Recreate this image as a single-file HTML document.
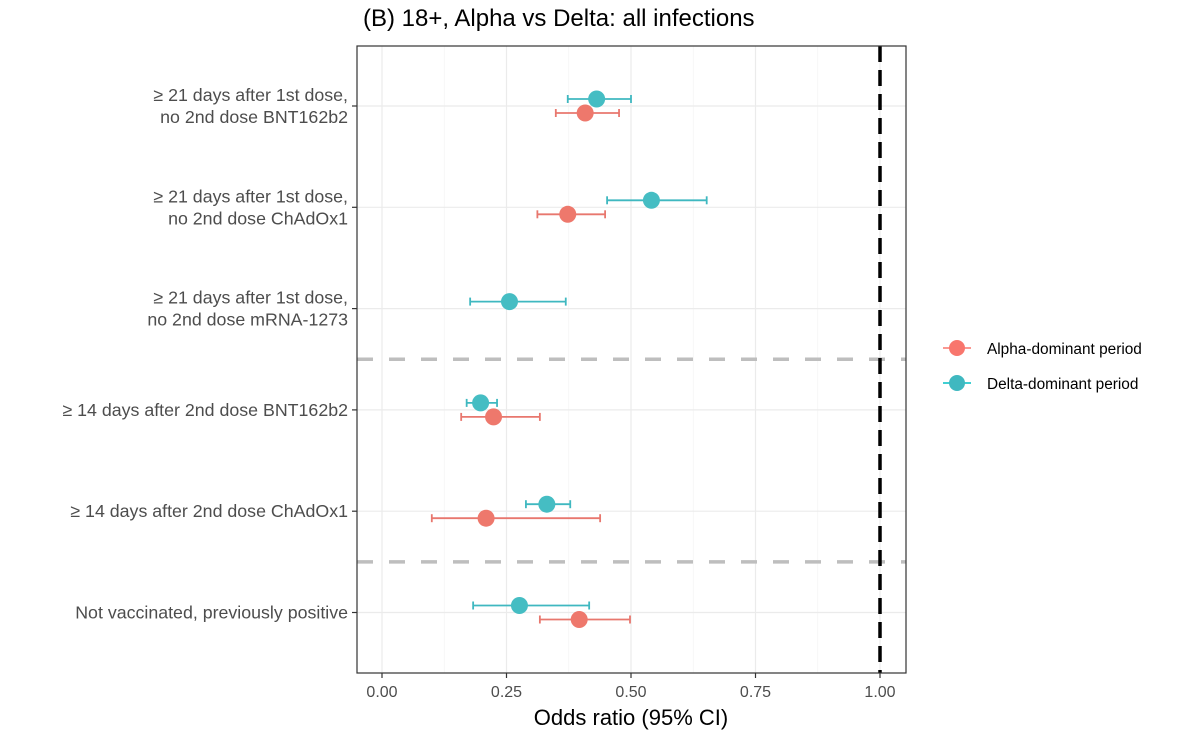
<!DOCTYPE html>
<html><head><meta charset="utf-8"><style>
body{margin:0;background:#fff;}
svg{display:block;font-family:"Liberation Sans",Arial,sans-serif;}
</style></head><body>
<svg id="chart" width="1200" height="741" viewBox="0 0 1200 741">
<text x="363" y="26" font-size="24" fill="#000">(B) 18+, Alpha vs Delta: all infections</text>
<g id="grid"></g>
<g id="marks"></g>
<rect x="357" y="46" width="549" height="627" fill="none" stroke="#333" stroke-width="1.2"/>
<g id="axes"></g>
<text x="631" y="725" font-size="22" text-anchor="middle" fill="#000">Odds ratio (95% CI)</text>
<g>
<g>
<line x1="943" y1="348" x2="971" y2="348" stroke="#F8766D" stroke-width="1.5"/>
<circle cx="957" cy="348" r="8" fill="#F8766D"/>
<text x="987" y="354" font-size="15.4" fill="#000">Alpha-dominant period</text></g>
<g>
<line x1="943" y1="383" x2="971" y2="383" stroke="#00BFC4" stroke-width="1.5"/>
<circle cx="957" cy="383" r="8" fill="#3FB8C0"/>
<text x="987" y="389" font-size="15.4" fill="#000">Delta-dominant period</text></g>
</g>
</svg>
<script>
const categories=["≥ 21 days after 1st dose,|no 2nd dose BNT162b2","≥ 21 days after 1st dose,|no 2nd dose ChAdOx1","≥ 21 days after 1st dose,|no 2nd dose mRNA-1273","≥ 14 days after 2nd dose BNT162b2","≥ 14 days after 2nd dose ChAdOx1","Not vaccinated, previously positive"];
const alphaEst=[0.408,0.373,null,0.224,0.209,0.396];
const alphaLo=[0.349,0.312,null,0.159,0.100,0.317];
const alphaHi=[0.476,0.448,null,0.317,0.438,0.498];
const deltaEst=[0.431,0.541,0.256,0.198,0.331,0.276];
const deltaLo=[0.373,0.452,0.177,0.170,0.289,0.183];
const deltaHi=[0.500,0.652,0.369,0.231,0.378,0.416];
const xTicks=[0,0.25,0.5,0.75,1];
const xTickLabels=["0.00","0.25","0.50","0.75","1.00"];
const NS="http://www.w3.org/2000/svg";
const X=v=>382+v*498;
const Y=i=>106+i*101.3;
function el(t,a,p){const e=document.createElementNS(NS,t);for(const k in a)e.setAttribute(k,a[k]);p.appendChild(e);return e;}
const grid=document.getElementById('grid'),marks=document.getElementById('marks'),axes=document.getElementById('axes');
xTicks.forEach((v,i)=>{
 const g=el('line',{x1:X(v),x2:X(v),y1:46,y2:673,stroke:'#ebebeb','stroke-width':1.2},grid);
 
 
 if(i<xTicks.length-1){const m=el('line',{x1:X(v+0.125),x2:X(v+0.125),y1:46,y2:673,stroke:'#f4f4f4','stroke-width':0.8},grid);
 
 }
 const tk=el('line',{x1:X(v),x2:X(v),y1:673,y2:678,stroke:'#333','stroke-width':1.2},axes);
 
 
 const t=el('text',{x:X(v),y:697,'font-size':16,'text-anchor':'middle',fill:'#4d4d4d'},axes);
 t.textContent=xTickLabels[i];
 
 
});
categories.forEach((c,i)=>{
 const y=Y(i);
 const g=el('line',{x1:357,x2:906,y1:y,y2:y,stroke:'#ebebeb','stroke-width':1.2},grid);
 
 
 const tk=el('line',{x1:352,x2:357,y1:y,y2:y,stroke:'#333','stroke-width':1.2},axes);
 
 
 const parts=c.split('|');
 parts.forEach((p,j)=>{
  const t=el('text',{x:348,y:y+6+(j-(parts.length-1)/2)*22,'font-size':17.8,'text-anchor':'end',fill:'#4d4d4d'},axes);
  t.textContent=p;
  
  
 });
});
[2.5,4.5].forEach(p=>{
 const y=(Y(p-0.5)+Y(p+0.5))/2;
 const d=el('line',{x1:357,x2:906,y1:y,y2:y,stroke:'#bebebe','stroke-width':3.5,'stroke-dasharray':'16 16'},marks);
 
 
});
const ref=el('line',{x1:X(1),x2:X(1),y1:46,y2:673,stroke:'#000','stroke-width':3.5,'stroke-dasharray':'16 8'},marks);


function series(est,lo,hi,off,col,fill,name){
 est.forEach((v,i)=>{
  if(v==null)return;
  const y=Y(i)+off;
  const g=el('g',{},marks);
  
  
  el('line',{x1:X(lo[i]),x2:X(hi[i]),y1:y,y2:y,stroke:col,'stroke-width':1.8},g);
  el('line',{x1:X(lo[i]),x2:X(lo[i]),y1:y-4,y2:y+4,stroke:col,'stroke-width':1.8},g);
  el('line',{x1:X(hi[i]),x2:X(hi[i]),y1:y-4,y2:y+4,stroke:col,'stroke-width':1.8},g);
  el('circle',{cx:X(v),cy:y,r:8.5,fill:fill},g);
 });
}
series(alphaEst,alphaLo,alphaHi,7,'#E8776E','#EE786C','alpha');
series(deltaEst,deltaLo,deltaHi,-7,'#3FB8C0','#45BDC3','delta');
</script>
</body></html>
